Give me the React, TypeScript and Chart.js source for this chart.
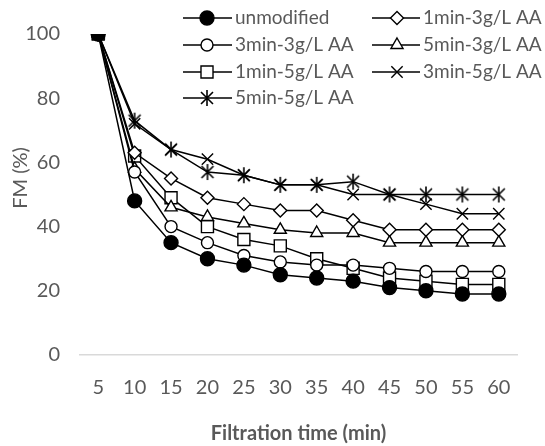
import React, { useEffect, useRef } from 'react';
import { Chart, registerables } from 'chart.js';
import { drawPoint } from 'chart.js/helpers';

Chart.register(...registerables);

const timeLabels = ['5', '10', '15', '20', '25', '30', '35', '40', '45', '50', '55', '60'];
const yTicks = [0, 20, 40, 60, 80, 100];

const unmodified = [100, 48, 35, 30, 28, 25, 24, 23, 21, 20, 19, 19];
const min1g3 = [100, 63, 55, 49, 47, 45, 45, 42, 39, 39, 39, 39];
const min3g3 = [100, 57, 40, 35, 31, 29, 28, 28, 27, 26, 26, 26];
const min5g3 = [100, 58, 46, 43, 41, 39, 38, 38, 35, 35, 35, 35];
const min1g5 = [100, 62, 49, 40, 36, 34, 30, 27, 24, 23, 22, 22];
const min3g5 = [100, 72, 64, 61, 56, 53, 53, 50, 50, 47, 44, 44];
const min5g5 = [100, 73, 64, 57, 56, 53, 53, 54, 50, 50, 50, 50];

const seriesNames = [
  'unmodified',
  '1min-3g/L AA',
  '3min-3g/L AA',
  '5min-3g/L AA',
  '1min-5g/L AA',
  '3min-5g/L AA',
  '5min-5g/L AA',
];

const TEXT = '#595959';
const FONT = 'Lato, "Open Sans", sans-serif';

function makeStar(): HTMLCanvasElement {
  const c = document.createElement('canvas');
  c.width = 18;
  c.height = 18;
  const g = c.getContext('2d')!;
  g.strokeStyle = '#000';
  g.lineWidth = 1.6;
  g.beginPath();
  g.moveTo(3, 3); g.lineTo(15, 15);
  g.moveTo(15, 3); g.lineTo(3, 15);
  g.moveTo(9, 1); g.lineTo(9, 17);
  g.stroke();
  return c;
}

export default function App() {
  const ref = useRef<HTMLCanvasElement | null>(null);

  useEffect(() => {
    if (!ref.current) return;
    const star = makeStar();
    const markers: any[] = [
      { style: 'circle', r: 7, fill: '#000' },
      { style: 'rectRot', r: 6.5, fill: '#fff' },
      { style: 'circle', r: 6, fill: '#fff' },
      { style: 'triangle', r: 7, fill: '#fff' },
      { style: 'rect', r: 8.5, fill: '#fff' },
      { style: 'crossRot', r: 8, fill: '#fff' },
      { style: star, r: 8, fill: '#fff' },
    ];
    const values = [unmodified, min1g3, min3g3, min5g3, min1g5, min3g5, min5g5];

    const datasets = seriesNames.map((name, i) => ({
      label: name,
      data: values[i],
      borderColor: '#000',
      borderWidth: 1.5,
      pointStyle: markers[i].style,
      pointRadius: markers[i].r,
      pointBackgroundColor: markers[i].fill,
      pointBorderColor: '#000',
      pointBorderWidth: 1.4,
      fill: false,
      tension: 0,
    }));

    const legendPlugin = {
      id: 'excelLegend',
      afterDraw(chart: any) {
        const ctx = chart.ctx as CanvasRenderingContext2D;
        const cols = [
          { l0: 183, l1: 232, m: 207, t: 235 },
          { l0: 372, l1: 420, m: 397, t: 423 },
        ];
        const rows = [18, 45, 72, 98];
        ctx.save();
        seriesNames.forEach((name, i) => {
          const c = cols[i % 2];
          const y = rows[Math.floor(i / 2)];
          ctx.strokeStyle = '#000';
          ctx.lineWidth = 1.5;
          ctx.beginPath();
          ctx.moveTo(c.l0, y);
          ctx.lineTo(c.l1, y);
          ctx.stroke();
          ctx.fillStyle = markers[i].fill;
          ctx.strokeStyle = '#000';
          ctx.lineWidth = 1.4;
          drawPoint(ctx, { pointStyle: markers[i].style, radius: markers[i].r, borderWidth: 1.4, rotation: 0 } as any, c.m, y);
          ctx.fillStyle = TEXT;
          ctx.font = `19px ${FONT}`;
          ctx.textAlign = 'left';
          ctx.textBaseline = 'middle';
          ctx.fillText(name, c.t, y);
        });
        // y axis title
        ctx.translate(21, 178);
        ctx.rotate(-Math.PI / 2);
        ctx.textAlign = 'center';
        ctx.textBaseline = 'middle';
        ctx.fillStyle = TEXT;
        ctx.font = `20px ${FONT}`;
        ctx.fillText('FM (%)', 0, 0);
        ctx.restore();
      },
    };

    const chart = new Chart(ref.current, {
      type: 'line',
      data: { labels: timeLabels, datasets },
      options: {
        animation: false,
        responsive: false,
        devicePixelRatio: 1,
        layout: { padding: { left: 0, top: 34, right: 28, bottom: 0 } },
        plugins: { legend: { display: false }, tooltip: { enabled: false } },
        scales: {
          x: {
            offset: true,
            grid: { display: false, drawTicks: false, offset: true },
            border: { display: true, color: '#d9d9d9', width: 1.5 },
            ticks: { color: TEXT, font: { family: FONT, size: 20 }, padding: 21 },
            title: {
              display: true,
              text: 'Filtration time (min)',
              color: TEXT,
              font: { family: FONT, size: 20, weight: 'bold', lineHeight: 1 },
              padding: { top: 0, bottom: 2 },
            },
            afterFit(scale: any) { scale.height = 91; },
          },
          y: {
            min: 0,
            max: 100,
            grid: { display: false, drawTicks: false },
            border: { display: false },
            afterBuildTicks(scale: any) { scale.ticks = yTicks.map((v) => ({ value: v })); },
            ticks: { color: TEXT, font: { family: FONT, size: 20 }, padding: 20 },
            afterFit(scale: any) { scale.width = 80; },
          },
        },
      },
      plugins: [legendPlugin],
    });
    return () => chart.destroy();
  }, []);

  return (
    <div style={{ position: 'absolute', left: 0, top: 0, width: 545, height: 446, background: '#fff' }}>
      <canvas ref={ref} width={545} height={446} />
    </div>
  );
}
